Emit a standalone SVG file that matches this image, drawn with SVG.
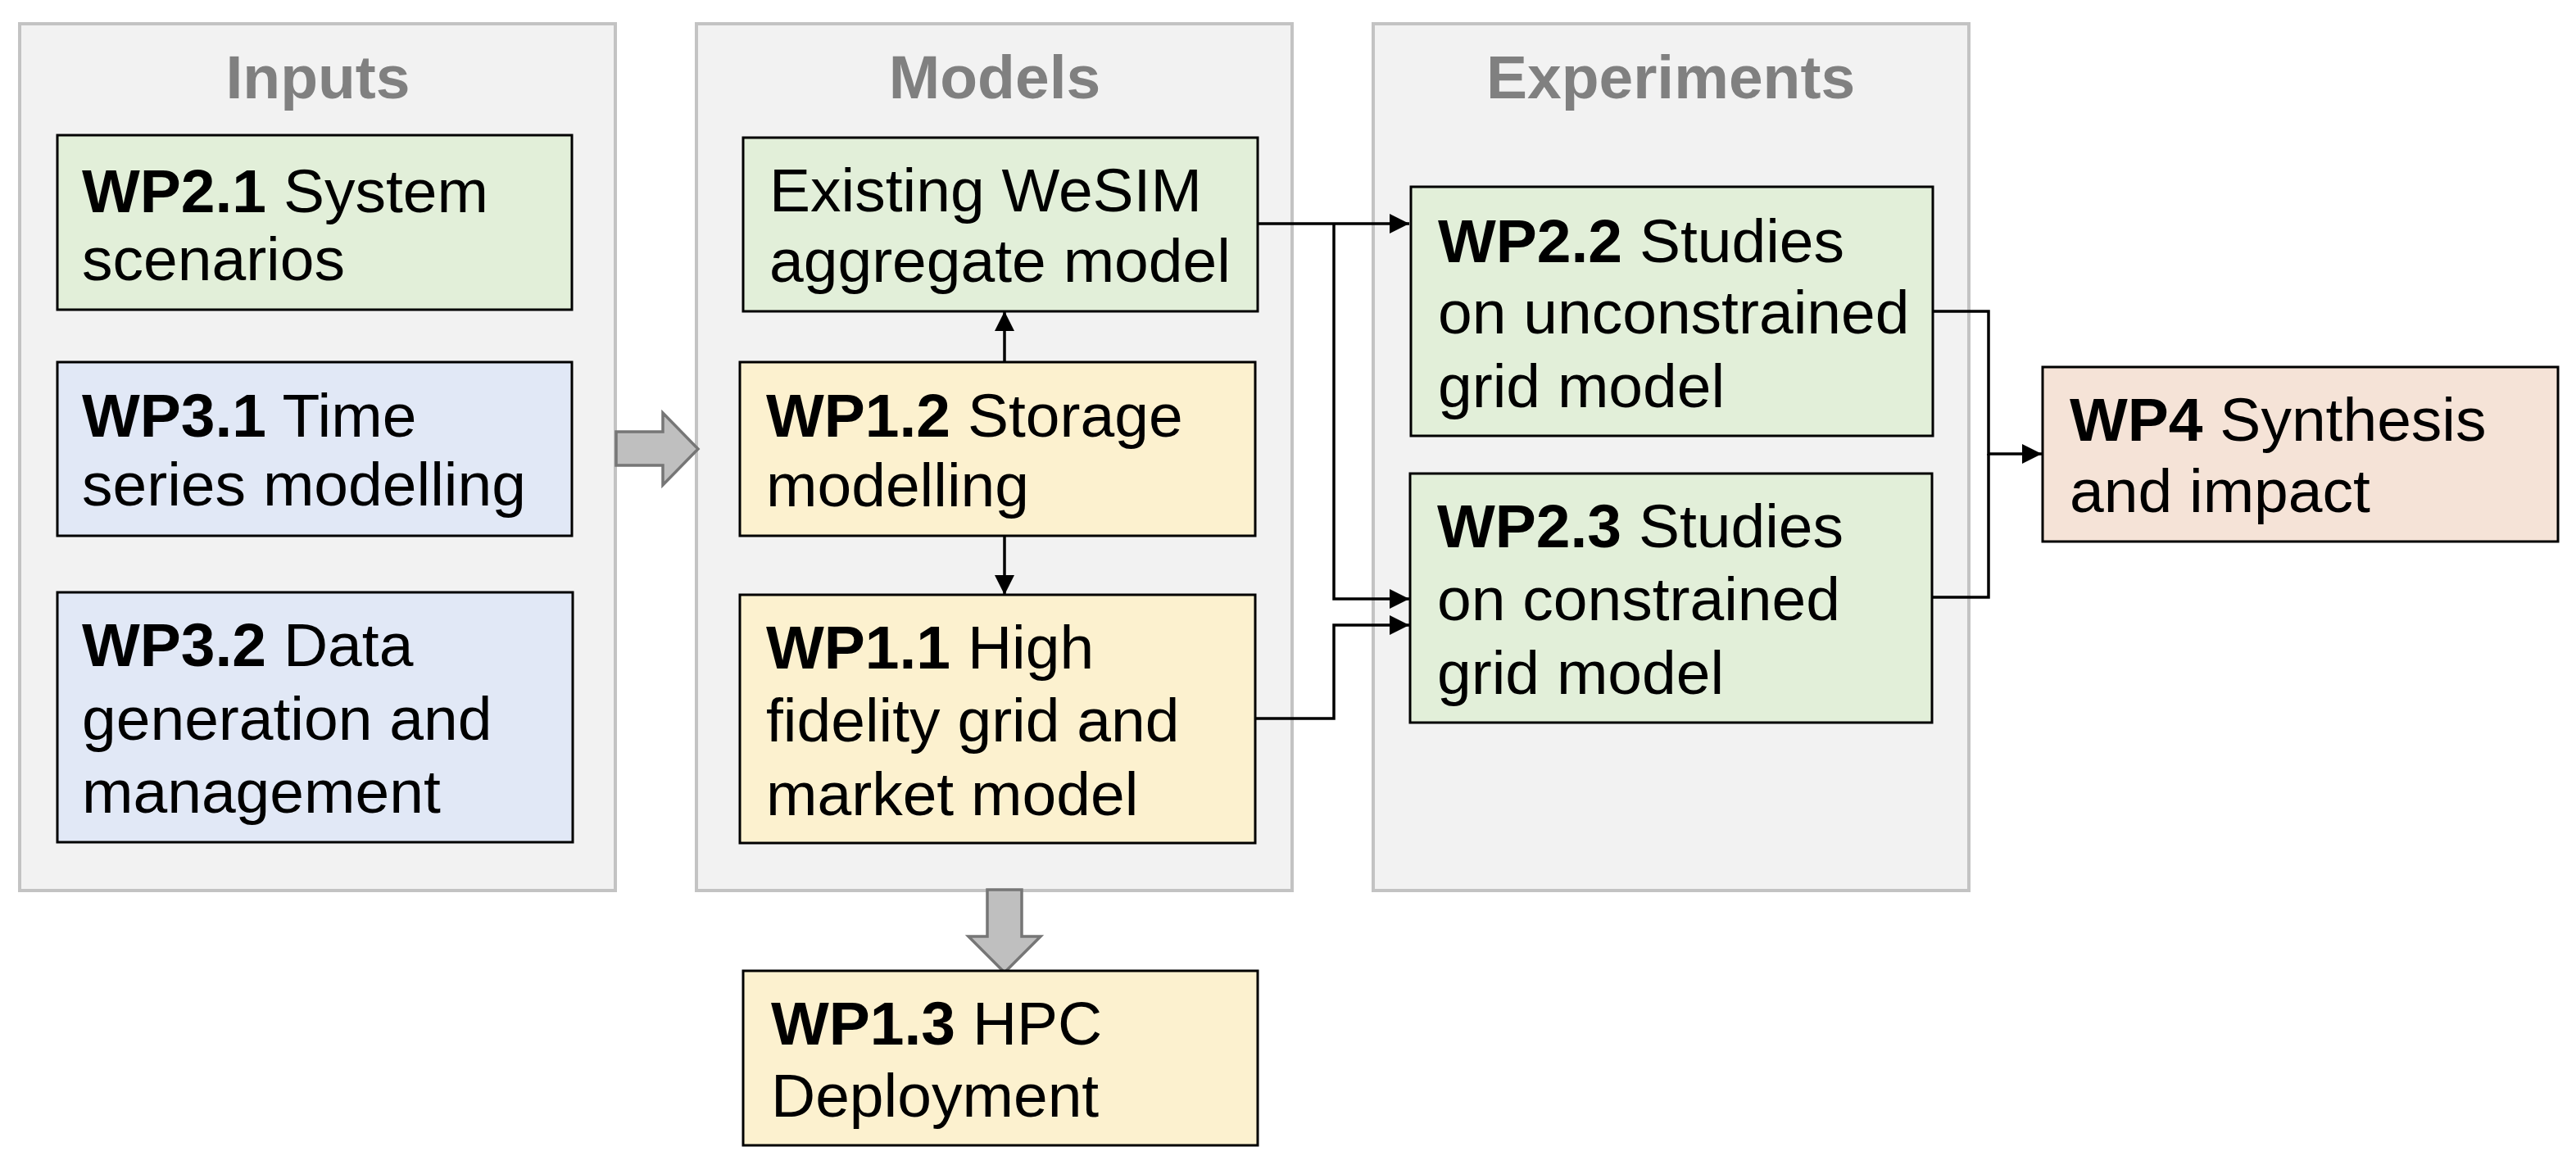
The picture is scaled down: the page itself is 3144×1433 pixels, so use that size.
<svg xmlns="http://www.w3.org/2000/svg" width="3144" height="1433" viewBox="0 0 3144 1433">
<style>
.cont{fill:#f2f2f2;stroke:#c3c3c3;stroke-width:4}
.title{font-family:"Liberation Sans",Arial,sans-serif;font-weight:bold;font-size:75px;fill:#808080;text-anchor:middle}
.box{stroke:#000;stroke-width:3}
.green{fill:#e2efd9}
.blue{fill:#e1e8f6}
.yellow{fill:#fcf1cf}
.peach{fill:#f5e3d7}
.t{font-family:"Liberation Sans",Arial,sans-serif;font-size:75px;fill:#000}
.b{font-weight:bold}
.conn{fill:none;stroke:#000;stroke-width:3.5}
.big{fill:#bfbfbf;stroke:#767676;stroke-width:3.5;stroke-linejoin:miter}
</style>
<defs>
<marker id="ah" markerUnits="userSpaceOnUse" markerWidth="24" markerHeight="24" refX="24" refY="12" orient="auto" viewBox="0 0 24 24">
<path d="M0,0 L24,12 L0,24 z" fill="#000"/>
</marker>
</defs>
<rect width="3144" height="1433" fill="#fff"/>
<g id="containers">
<g id="inputs"><rect class="cont" x="24" y="29" width="727" height="1058"/><text class="title" x="388" y="120">Inputs</text></g>
<g id="models"><rect class="cont" x="850" y="29" width="727" height="1058"/><text class="title" x="1214" y="120">Models</text></g>
<g id="experiments"><rect class="cont" x="1676" y="29" width="727" height="1058"/><text class="title" x="2039" y="120">Experiments</text></g>
</g>
<g id="bigarrows">
<polygon class="big" points="752,527 809,527 809,504 852,548 809,592 809,568 752,568"/>
<polygon class="big" points="1205,1086 1247,1086 1247,1143 1270,1143 1226,1187 1182,1143 1205,1143"/>
</g>
<g id="connectors">
<path class="conn" d="M1535,273 H1720" marker-end="url(#ah)"/>
<path class="conn" d="M1628,273 V731 H1720" marker-end="url(#ah)"/>
<path class="conn" d="M1532,877 H1628 V763 H1720" marker-end="url(#ah)"/>
<path class="conn" d="M1226,442 V380" marker-end="url(#ah)"/>
<path class="conn" d="M1226,654 V726" marker-end="url(#ah)"/>
<path class="conn" d="M2359,380 H2427 V554 H2492" marker-end="url(#ah)"/>
<path class="conn" d="M2358,729 H2427 V554"/>
</g>
<g id="wp21"><rect class="box green" x="70" y="165" width="628" height="213"/><text class="t" x="100" y="259"><tspan class="b">WP2.1</tspan> System</text><text class="t" x="100" y="342">scenarios</text></g>
<g id="wp31"><rect class="box blue" x="70" y="442" width="628" height="212"/><text class="t" x="100" y="533"><tspan class="b">WP3.1</tspan> Time</text><text class="t" x="100" y="617">series modelling</text></g>
<g id="wp32"><rect class="box blue" x="70" y="723" width="629" height="305"/><text class="t" x="100" y="813"><tspan class="b">WP3.2</tspan> Data</text><text class="t" x="100" y="903">generation and</text><text class="t" x="100" y="992">management</text></g>
<g id="wesim"><rect class="box green" x="907" y="168" width="628" height="212"/><text class="t" x="939" y="258">Existing WeSIM</text><text class="t" x="939" y="344">aggregate model</text></g>
<g id="wp12"><rect class="box yellow" x="903" y="442" width="629" height="212"/><text class="t" x="935" y="533"><tspan class="b">WP1.2</tspan> Storage</text><text class="t" x="935" y="618">modelling</text></g>
<g id="wp11"><rect class="box yellow" x="903" y="726" width="629" height="303"/><text class="t" x="935" y="816"><tspan class="b">WP1.1</tspan> High</text><text class="t" x="935" y="905">fidelity grid and</text><text class="t" x="935" y="995">market model</text></g>
<g id="wp13"><rect class="box yellow" x="907" y="1185" width="628" height="213"/><text class="t" x="941" y="1275"><tspan class="b">WP1.3</tspan> HPC</text><text class="t" x="941" y="1363">Deployment</text></g>
<g id="wp22"><rect class="box green" x="1722" y="228" width="637" height="304"/><text class="t" x="1755" y="320"><tspan class="b">WP2.2</tspan> Studies</text><text class="t" x="1755" y="407">on unconstrained</text><text class="t" x="1755" y="497">grid model</text></g>
<g id="wp23"><rect class="box green" x="1721" y="578" width="637" height="304"/><text class="t" x="1754" y="668"><tspan class="b">WP2.3</tspan> Studies</text><text class="t" x="1754" y="757">on constrained</text><text class="t" x="1754" y="847">grid model</text></g>
<g id="wp4"><rect class="box peach" x="2493" y="448" width="629" height="213"/><text class="t" x="2526" y="538"><tspan class="b">WP4</tspan> Synthesis</text><text class="t" x="2526" y="625">and impact</text></g>
</svg>
